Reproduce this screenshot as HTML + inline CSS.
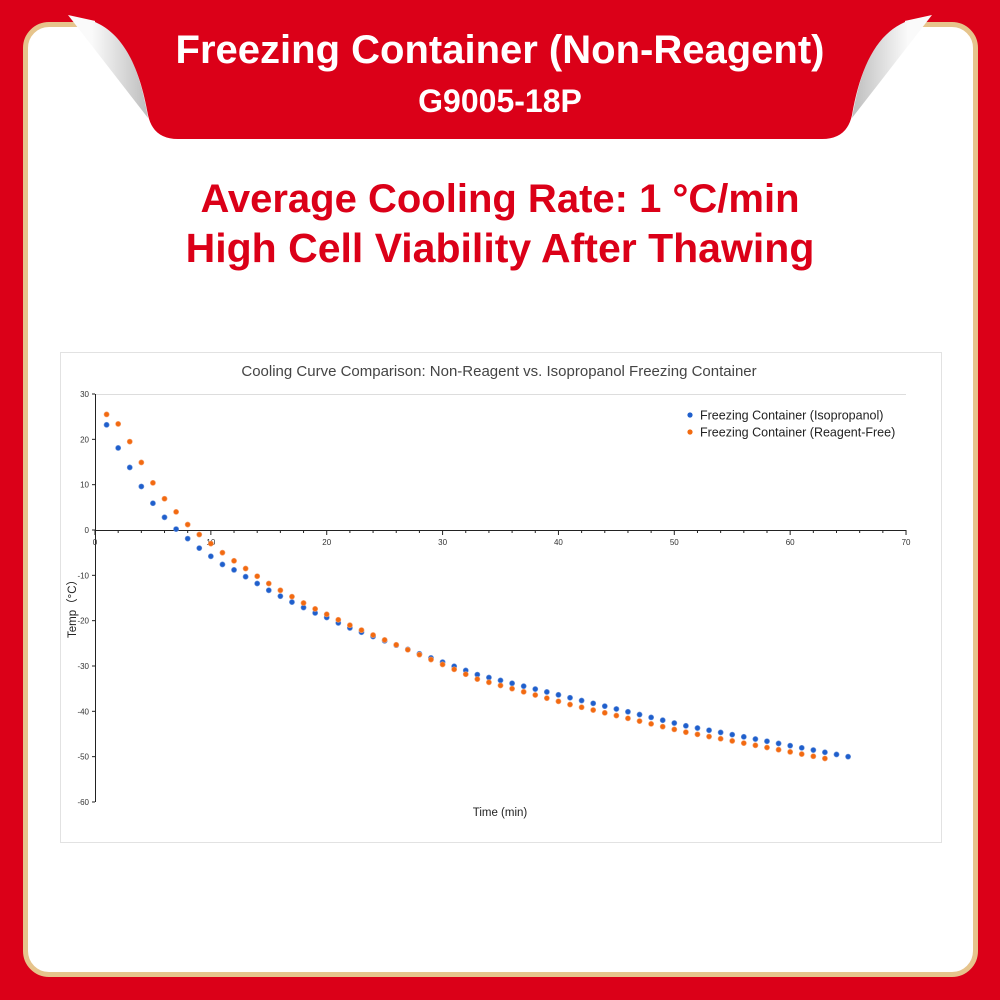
<!DOCTYPE html>
<html><head><meta charset="utf-8"><style>
html,body{margin:0;padding:0}
body{width:1000px;height:1000px;background:#db0018;position:relative;overflow:hidden;font-family:"Liberation Sans",sans-serif}
.panel{position:absolute;left:23px;top:22px;width:945px;height:945px;background:#fff;border:5px solid #e6c48c;border-radius:26px}
.h1{position:absolute;left:0;width:1000px;text-align:center;color:#fff;font-weight:bold}
.r{position:absolute;left:0;width:1000px;text-align:center;color:#db0018;font-weight:bold;font-size:40px}
</style></head><body>
<div class="panel"></div>
<svg style="position:absolute;left:0;top:0" width="1000" height="160">
<defs>
<linearGradient id="g" x1="0" y1="0" x2="1" y2="0"><stop offset="0.3" stop-color="#fafafa"/><stop offset="1" stop-color="#bdbdbd"/></linearGradient>
<linearGradient id="g2" x1="1" y1="0" x2="0" y2="0"><stop offset="0.3" stop-color="#fafafa"/><stop offset="1" stop-color="#bdbdbd"/></linearGradient>
</defs>
<path d="M68 15 L100 22 C125 35 140 70 148 118 Z" fill="url(#g)"/>
<path d="M932 15 L900 22 C875 35 860 70 852 118 Z" fill="url(#g2)"/>
<path d="M95 0 L95 22 C125 35 140 70 148 115 Q153 139 178 139 H822 Q847 139 852 115 C860 70 875 35 905 22 L905 0 Z" fill="#db0018"/>
</svg>
<div class="h1" style="top:28px;font-size:40px">Freezing Container (Non-Reagent)</div>
<div class="h1" style="top:83px;font-size:32px">G9005-18P</div>
<div class="r" style="top:177px">Average Cooling Rate: 1 °C/min</div>
<div class="r" style="top:225px;font-size:41px">High Cell Viability After Thawing</div>
<svg id="c" style="position:absolute;left:0;top:0" width="1000" height="1000"></svg>
<script>
var s='';
s+='<rect x="60.5" y="352.5" width="881" height="490" fill="#fff" stroke="#e2e2e2"/>';
s+='<text x="499" y="376" text-anchor="middle" font-size="15" fill="#444" font-family="Liberation Sans">Cooling Curve Comparison: Non-Reagent vs. Isopropanol Freezing Container</text>';
s+='<line x1="95" y1="394.5" x2="906" y2="394.5" stroke="#ddd"/>';
s+='<line x1="95.5" y1="394" x2="95.5" y2="802" stroke="#222"/>';
s+='<line x1="95" y1="530.5" x2="906" y2="530.5" stroke="#222"/>';
function X(t){return 95+t*11.586}function Y(v){return 530-v*4.533}
for(var v=30;v>=-60;v-=10){s+='<line x1="92" x2="95" y1="'+Y(v)+'" y2="'+Y(v)+'" stroke="#222"/><text x="89" y="'+(Y(v)+3)+'" text-anchor="end" font-size="8" fill="#333">'+v+'</text>';}
for(var t=0;t<=70;t+=2){s+='<line x1="'+X(t)+'" x2="'+X(t)+'" y1="530" y2="'+(t%10?533:535)+'" stroke="#222"/>';}
for(var t=0;t<=70;t+=10){s+='<text x="'+X(t)+'" y="545" text-anchor="middle" font-size="8" fill="#333">'+t+'</text>';}
s+='<text x="500" y="816" text-anchor="middle" font-size="11.5" fill="#222">Time (min)</text>';
s+='<text transform="translate(76,606) rotate(-90)" text-anchor="middle" font-size="11.5" fill="#222">Temp（°C）</text>';
var b=[23.2,18.1,13.8,9.6,5.9,2.8,0.2,-1.9,-4,-5.8,-7.6,-8.8,-10.3,-11.8,-13.3,-14.6,-15.9,-17.1,-18.3,-19.3,-20.5,-21.6];
var o=[25.5,23.4,19.5,14.9,10.4,6.9,4,1.2,-1,-3,-5,-6.8,-8.5,-10.2,-11.8,-13.3,-14.7,-16.1,-17.4,-18.6,-19.8,-21];
function ext(arr,anch,end){var pts=[[22,arr[21]]].concat(anch);for(var t=23;t<=end;t++){for(var i=0;i<pts.length-1;i++){if(t>=pts[i][0]&&t<=pts[i+1][0]){var f=(t-pts[i][0])/(pts[i+1][0]-pts[i][0]);arr.push(pts[i][1]+f*(pts[i+1][1]-pts[i][1]));break;}}}}
ext(b,[[28,-27.3],[33,-31.9],[41,-37.0],[51,-43.2],[65,-50]],65);
ext(o,[[28,-27.5],[33,-32.9],[41,-38.5],[51,-44.6],[63,-50.4]],63);
b.forEach(function(v,i){s+='<circle cx="'+X(i+1)+'" cy="'+Y(v)+'" r="2.6" fill="#1f5fcc" stroke="#6d95dc" stroke-width="0.6"/>';});
o.forEach(function(v,i){s+='<circle cx="'+X(i+1)+'" cy="'+Y(v)+'" r="2.6" fill="#f26a10" stroke="#f6a170" stroke-width="0.6"/>';});
s+='<circle cx="690" cy="415" r="2.6" fill="#1f5fcc"/><text x="700" y="419.5" font-size="12.5" fill="#222">Freezing Container (Isopropanol)</text>';
s+='<circle cx="690" cy="432" r="2.6" fill="#f26a10"/><text x="700" y="436.5" font-size="12.5" fill="#222">Freezing Container (Reagent-Free)</text>';
document.getElementById('c').innerHTML=s;
</script>
</body></html>
